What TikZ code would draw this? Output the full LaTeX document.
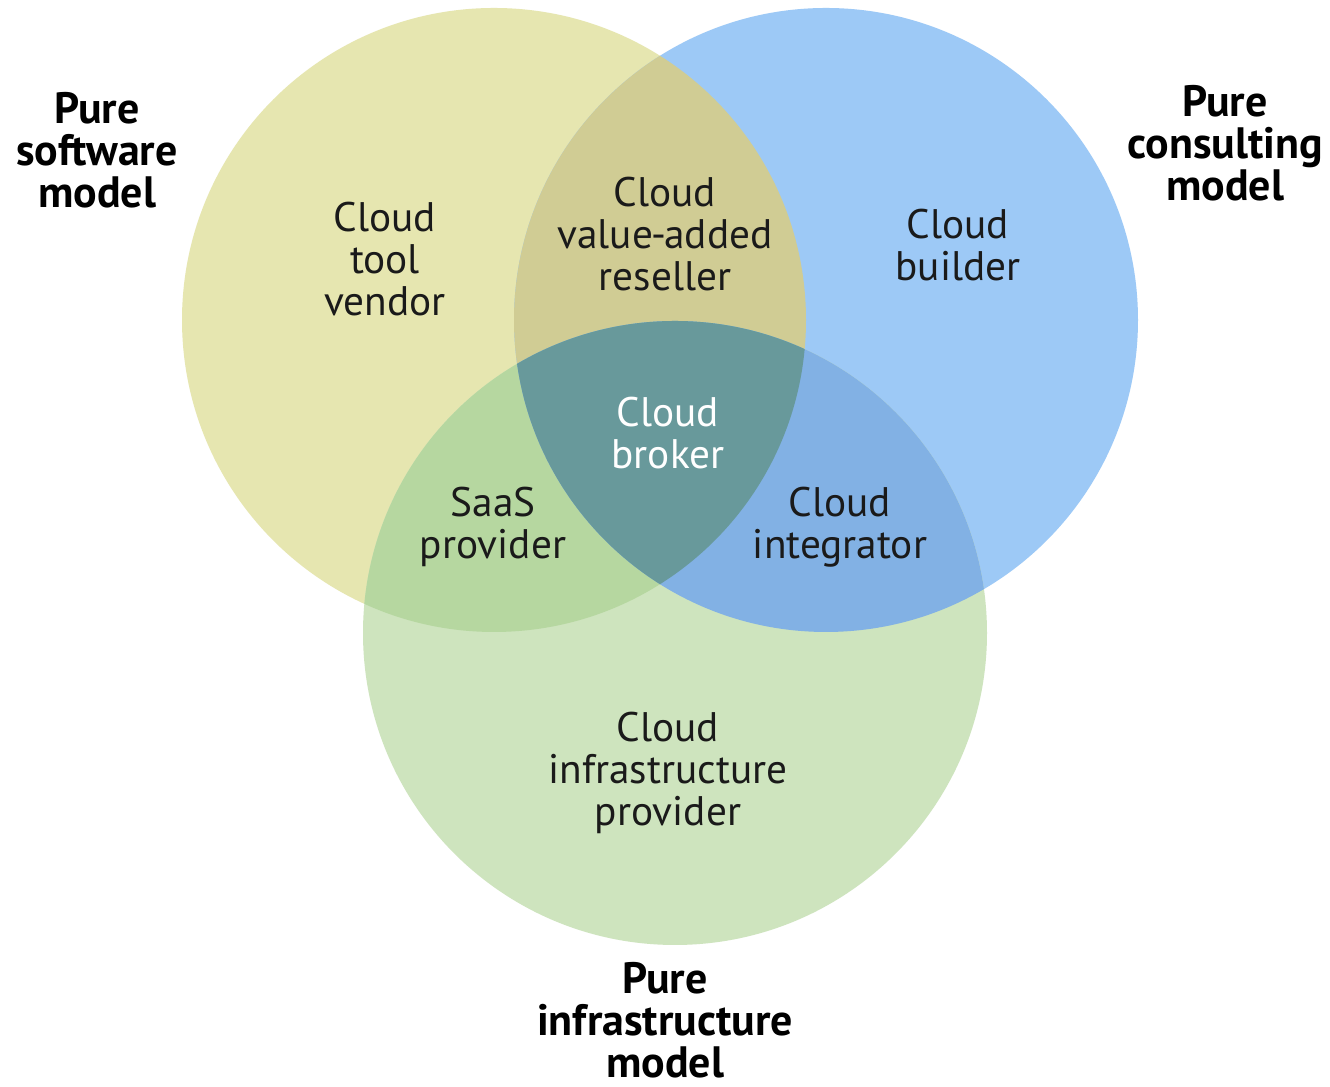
\documentclass[tikz,border=0pt]{standalone}
\usepackage{fontspec}
\setmainfont{PT Sans}
\usepackage{tikz}
\usetikzlibrary{positioning}

\definecolor{softfill}{RGB}{230,230,176}
\definecolor{consfill}{RGB}{157,201,246}
\definecolor{infrafill}{RGB}{206,228,190}
\definecolor{softcons}{RGB}{208,204,148}
\definecolor{softinfra}{RGB}{182,215,160}
\definecolor{consinfra}{RGB}{130,177,228}
\definecolor{allthree}{RGB}{104,153,155}
\definecolor{txt}{RGB}{26,26,26}

\tikzset{
  lbl/.style={align=center,text=txt,inner sep=0pt,font=\fontsize{23.5}{24}\selectfont},
  head/.style={align=center,text=black,inner sep=0pt,font=\bfseries\fontsize{25}{24}\selectfont}
}

\begin{document}
\begin{tikzpicture}[x=0.02cm,y=0.02cm]
  \useasboundingbox[fill=white] (0,0) rectangle (1330,1087);
  \def\soft{(494,767) circle[radius=312]}
  \def\cons{(826,767) circle[radius=312]}
  \def\infra{(675,454) circle[radius=312]}
  % the three sets
  \fill[softfill] \soft;
  \fill[consfill] \cons;
  \fill[infrafill] \infra;
  % overlaps
  \begin{scope}
    \clip \soft;
    \fill[softcons] \cons;
    \fill[softinfra] \infra;
  \end{scope}
  \begin{scope}
    \clip \cons;
    \fill[consinfra] \infra;
    \clip \soft;
    \fill[allthree] \infra;
  \end{scope}
  % labels
  \node[head] (softm) at (97,937) {Pure\\software\\model};
  \node[head] (consm) at (1225,944) {Pure\\consulting\\model};
  \node[head] (infram) at (665,67) {Pure\\infrastructure\\model};
  \node[lbl] (vendor) at (385,828) {Cloud\\tool\\vendor};
  \node[lbl] (var) at (665,853) {Cloud\\value\kern-1pt-\kern-1pt added\\reseller};
  \node[lbl] (builder) at (958,842) {Cloud\\builder};
  \node[lbl,text=white] (broker) at (668,654) {Cloud\\broker};
  \node[lbl] (saas) at (493,560) {SaaS\\provider};
  \node[lbl] (integ) at (840,560) {Cloud\\integrator};
  \node[lbl] (iaas) at (668,314) {Cloud\\infrastructure\\provider};
\end{tikzpicture}
\end{document}
